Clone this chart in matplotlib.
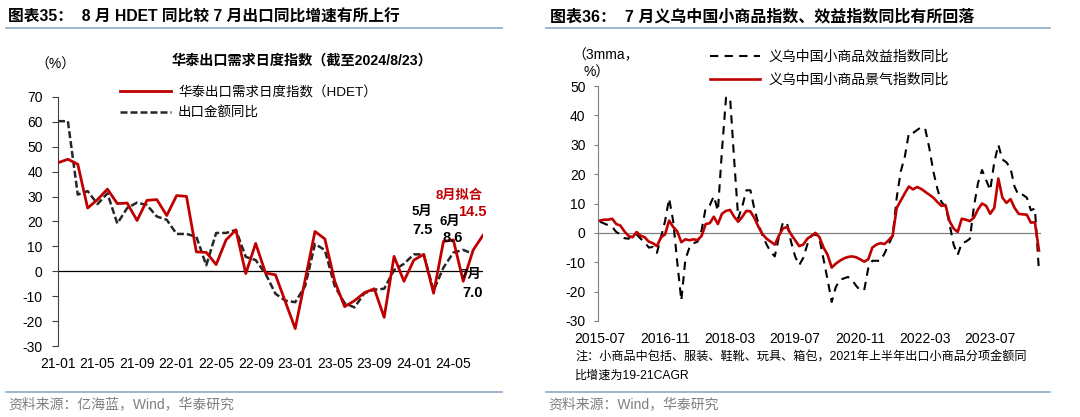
import matplotlib
matplotlib.use('Agg')
import matplotlib.pyplot as plt
from matplotlib.lines import Line2D

plt.rcParams['font.family'] = ['Liberation Sans', 'Noto Sans CJK SC']
plt.rcParams['axes.unicode_minus'] = False

# ---------------- data: left panel (monthly, 2021-01 .. 2024-08) ----------------
left_tick_labels = ['21-01', '21-05', '21-09', '22-01', '22-05', '22-09',
                    '23-01', '23-05', '23-09', '24-01', '24-05']
hdet = [43.6, 45.0, 43.0, 25.4, 28.8, 33.0, 27.2, 27.4, 20.4, 28.5,
        28.8, 22.4, 30.4, 30.1, 7.8, 7.6, 2.7, 12.6, 16.6, -0.9,
        11.2, -0.7, -1.4, -12.2, -23.0, -3.5, 16.0, 13.0, -4.0, -14.2,
        -11.8, -8.6, -7.0, -18.5, 6.0, -4.0, 4.5, 6.8, -8.8, 12.0,
        12.6, -4.0, 8.5, 14.5]
export_yoy = [60.3, 60.3, 30.8, 32.2, 27.0, 31.3, 19.2, 25.4, 27.6, 26.6,
              22.0, 20.7, 15.0, 15.0, 13.9, 2.4, 15.4, 15.4, 16.6, 5.8,
              4.5, -1.0, -9.0, -11.8, -12.4, -6.0, 11.0, 8.5, -6.0, -12.8,
              -14.5, -8.8, -7.4, -7.0, 0.5, 3.0, 6.8, 6.8, -7.7, 1.5,
              7.5, 8.6, 7.0]

# ---------------- data: right panel (monthly, 2015-07 .. 2024-07) ----------------
right_tick_labels = ['2015-07', '2016-11', '2018-03', '2019-07',
                     '2020-11', '2022-03', '2023-07']
yiwu_benefit = [3.8, 3.2, 2.6, 2.0, 0.3, -0.5, -1.8, -2.0, -0.5, -0.5,
                -2.0, -3.2, -5.0, -4.8, -6.8, -1.5, 4.0, 11.7, 4.0, -10.0,
                -23.0, -9.0, -5.0, -3.5, -3.0, 1.0, 8.5, 9.4, 12.5, 7.5,
                28.0, 46.0, 46.0, 25.0, 5.0, 9.0, 14.5, 14.5, 8.0, 3.0,
                -1.0, -4.0, -6.5, -8.0, -1.5, 3.5, 3.5, -3.0, -8.0, -11.0,
                -8.5, -4.0, -1.0, -0.5, -2.0, -9.0, -16.0, -23.5, -18.5, -16.0,
                -15.5, -15.0, -16.0, -18.0, -19.5, -19.5, -12.0, -9.5, -9.5, -9.5,
                -7.0, -4.0, -1.0, 12.0, 21.0, 26.0, 34.0, 34.0, 35.0, 36.0,
                35.5, 29.0, 21.0, 15.0, 10.5, 9.0, 3.0, -4.0, -7.5, -3.5,
                -3.0, -2.0, 9.0, 17.0, 21.4, 18.0, 14.5, 24.0, 30.0, 25.0,
                24.0, 22.0, 15.7, 12.8, 13.0, 12.0, 7.7, 8.3, -13.0]
yiwu_climate = [4.2, 4.5, 4.5, 4.8, 3.0, 2.5, 0.5, -1.0, -1.5, 0.3,
                -1.0, -1.5, -3.0, -3.5, -4.5, -1.5, -0.5, 4.2, 2.0, 0.5,
                -3.2, -2.2, -2.5, -2.2, -2.5, -1.0, 3.0, 3.3, 5.5, 3.0,
                6.5, 7.5, 7.8, 5.5, 3.8, 5.5, 7.5, 7.3, 5.0, 2.0,
                -0.5, -2.0, -3.0, -4.0, -1.0, 1.5, 2.0, -0.5, -2.5, -4.5,
                -4.0, -2.0, -1.0, 0.0, -1.5, -5.0, -7.5, -11.8, -10.5, -9.5,
                -8.7, -8.2, -8.0, -8.3, -9.0, -9.8, -9.0, -5.0, -4.0, -3.5,
                -3.8, -2.5, -1.0, 8.5, 11.0, 13.5, 15.8, 14.8, 15.6, 15.0,
                14.0, 13.0, 12.0, 10.5, 9.2, 9.5, 4.0, 1.5, 0.3, 4.8,
                4.5, 4.0, 5.2, 8.0, 10.0, 9.2, 6.5, 8.5, 18.5, 12.0,
                10.2, 11.5, 8.5, 6.5, 6.3, 6.2, 3.5, 3.6, -6.0]

# ---------------- layout helpers ----------------
W, H = 1080, 417
fig = plt.figure(figsize=(W / 100, H / 100), dpi=100)


def fx(x):
    return x / W


def fy(y):
    return 1 - y / H


RED = '#C00000'
DASH = '#262626'
RULE = '#8DA9C8'
GREY = '#7F7F7F'

# titles, rules, footers
fig.text(fx(8), fy(17), '图表35：  8 月 HDET 同比较 7 月出口同比增速有所上行',
         fontsize=11.3, fontweight='bold', va='center', ha='left')
fig.text(fx(550), fy(17), '图表36：  7 月义乌中国小商品指数、效益指数同比有所回落',
         fontsize=11.5, fontweight='bold', va='center', ha='left')
for x0, x1 in [(6, 502), (546, 1050)]:
    for yy in (28, 392):
        fig.add_artist(Line2D([fx(x0), fx(x1)], [fy(yy), fy(yy)],
                              color=RULE, lw=1.2))
fig.text(fx(8), fy(404), '资料来源：亿海蓝，Wind，华泰研究', fontsize=10,
         color=GREY, va='center', ha='left')
fig.text(fx(548), fy(404), '资料来源：Wind，华泰研究', fontsize=10,
         color=GREY, va='center', ha='left')

# ---------------- left chart ----------------
ax1 = fig.add_axes([fx(58), fy(346), (483 - 58) / W, (346 - 97) / H])
l_red, = ax1.plot(range(len(hdet)), hdet, color=RED, lw=2.0,
                  label='华泰出口需求日度指数（HDET）', zorder=3)
l_dash, = ax1.plot(range(len(export_yoy)), export_yoy, color=DASH, lw=1.8,
                   ls=(0, (2.8, 1.2)), label='出口金额同比', zorder=2)
ax1.axhline(0, color='black', lw=0.9, zorder=1)
ax1.set_xlim(0, len(hdet) - 1)
ax1.set_ylim(-30, 70)
ax1.set_yticks(range(-30, 71, 10))
ax1.set_xticks(range(0, 4 * len(left_tick_labels), 4))
ax1.set_xticklabels(left_tick_labels)
for s in ('top', 'right', 'bottom'):
    ax1.spines[s].set_visible(False)
ax1.spines['left'].set_color('#404040')
ax1.spines['left'].set_linewidth(0.8)
ax1.tick_params(axis='y', direction='out', length=4, width=0.8,
                color='#404040', labelsize=10, pad=7)
ax1.tick_params(axis='x', length=0, labelsize=10, pad=8)
ax1.set_facecolor('none')

fig.text(fx(302), fy(61), '华泰出口需求日度指数（截至2024/8/23）', fontsize=10.2,
         fontweight='bold', ha='center', va='center')
fig.text(fx(55), fy(65), '（%）', fontsize=10, ha='center', va='center')

ax1.legend(handles=[l_red, l_dash], loc='upper left',
           bbox_to_anchor=(fx(120), fy(86)), bbox_transform=fig.transFigure,
           frameon=False, fontsize=9.7, handlelength=3.8, handletextpad=0.5,
           labelspacing=0.6, borderpad=0, borderaxespad=0)

# annotations (month index, value)
ann = [('8月拟合', 40.6, 30.5, RED, 9.5),
       ('14.5', 41.9, 24.0, RED, 10.5),
       ('5月', 36.8, 23.7, 'black', 9.5),
       ('7.5', 36.9, 16.5, 'black', 10.5),
       ('6月', 39.6, 20.0, 'black', 9.5),
       ('8.6', 39.9, 13.5, 'black', 10.5),
       ('7月', 41.8, -1.5, 'black', 9.5),
       ('7.0', 41.9, -8.7, 'black', 10.5)]
for t, xm, yv, c, fs in ann:
    ax1.text(xm, yv, t, color=c, fontsize=fs, fontweight='bold',
             ha='center', va='center', zorder=5)

# ---------------- right chart ----------------
ax2 = fig.add_axes([fx(598), fy(321), (1041 - 598) / W, (321 - 86) / H])
r_dash, = ax2.plot(range(len(yiwu_benefit)), yiwu_benefit, color='black',
                   lw=1.5, ls=(0, (4, 3)), label='义乌中国小商品效益指数同比',
                   zorder=2)
r_red, = ax2.plot(range(len(yiwu_climate)), yiwu_climate, color=RED, lw=1.9,
                  label='义乌中国小商品景气指数同比', zorder=3)
ax2.axhline(0, color='#808080', lw=0.9, zorder=1)
ax2.set_xlim(-0.5, len(yiwu_climate) - 0.5)
ax2.set_ylim(-30, 50)
ax2.set_yticks(range(-30, 51, 10))
ax2.set_xticks(range(0, 16 * len(right_tick_labels), 16))
ax2.set_xticklabels(right_tick_labels)
for s in ('top', 'right', 'bottom'):
    ax2.spines[s].set_visible(False)
ax2.spines['left'].set_color('#7F7F7F')
ax2.spines['left'].set_linewidth(0.8)
ax2.tick_params(axis='y', direction='out', length=3, width=0.8,
                color='#7F7F7F', labelsize=10, pad=6)
ax2.tick_params(axis='x', length=0, labelsize=10, pad=8)
ax2.set_facecolor('none')

fig.text(fx(572), fy(55), '（3mma，', fontsize=10, ha='left', va='center')
fig.text(fx(584), fy(73), '%）', fontsize=10, ha='left', va='center')

ax2.legend(handles=[r_dash, r_red], loc='upper left',
           bbox_to_anchor=(fx(710), fy(50)), bbox_transform=fig.transFigure,
           frameon=False, fontsize=10, handlelength=3.6, handletextpad=0.6,
           labelspacing=0.65, borderpad=0, borderaxespad=0)

fig.text(fx(575), fy(358),
         '注：小商品中包括、服装、鞋靴、玩具、箱包，2021年上半年出口小商品分项金额同',
         fontsize=8.7, ha='left', va='center')
fig.text(fx(575), fy(376), '比增速为19-21CAGR', fontsize=8.7,
         ha='left', va='center')

fig.savefig('out.png', dpi=100)
